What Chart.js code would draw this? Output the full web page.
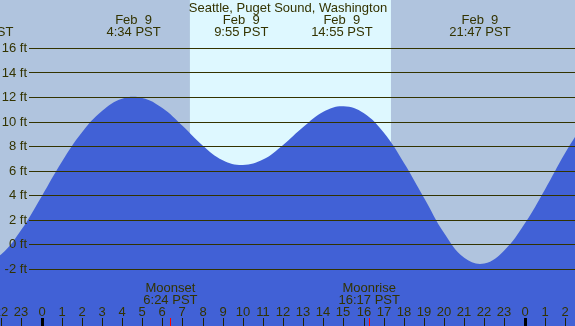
<!DOCTYPE html>
<html>
<head>
<meta charset="utf-8">
<script src="https://cdn.jsdelivr.net/npm/chart.js@4/dist/chart.umd.min.js"></script>
<style>
html,body{margin:0;padding:0;background:#b0c4de;overflow:hidden;}
#wrap{position:relative;width:575px;height:326px;}
canvas{display:block;}
</style>
</head>
<body>
<div id="wrap"><canvas id="c" width="575" height="326"></canvas></div>
<script>
// ---- data ----
const chartTitle = "Seattle, Puget Sound, Washington";
// tide height (ft) each hour of Feb 9 (negative = Feb 8, >=24 = Feb 10)
const tideHours = [-3, -2, -1, 0, 1, 2, 3, 4, 5, 6, 7, 8, 9, 10, 11, 12, 13, 14, 15, 16, 17, 18, 19, 20, 21, 22, 23, 24, 25, 26, 27];
const tideFeet  = [-1.5, -0.8, 1.2, 3.9, 6.7, 9.1, 10.85, 11.85, 11.92, 11.1, 9.65, 8.05, 6.85, 6.46, 6.9, 8.1, 9.55, 10.8, 11.25, 10.7, 9.1, 6.65, 3.8, 0.92, -1.1, -1.56, -0.48, 1.67, 4.43, 7.4, 10.0];
// high / low events
const eventHours = [-2.93, 4.57, 9.92, 14.92, 21.78];
const eventDates = ["", "Feb  9", "Feb  9", "Feb  9", "Feb  9"];
const eventTimes = ["21:04 PST", "4:34 PST", "9:55 PST", "14:55 PST", "21:47 PST"];
// daylight
const sunriseHour = 7.37;
const sunsetHour = 17.36;
// moon
const moonHours = [6.4, 16.28];
const moonNames = ["Moonset", "Moonrise"];
const moonTimes = ["6:24 PST", "16:17 PST"];
// axes
const feetTicks = [-2, 0, 2, 4, 6, 8, 10, 12, 14, 16];
const feetLabels = feetTicks.map(v => v + " ft");
const hourTicks = [-2, -1, 0, 1, 2, 3, 4, 5, 6, 7, 8, 9, 10, 11, 12, 13, 14, 15, 16, 17, 18, 19, 20, 21, 22, 23, 24, 25, 26];
const hourLabels = ["22", "23", "0", "1", "2", "3", "4", "5", "6", "7", "8", "9", "10", "11", "12", "13", "14", "15", "16", "17", "18", "19", "20", "21", "22", "23", "0", "1", "2"];

const X_MIN = -2.067, X_MAX = 26.505;
const Y_MIN = -6.65, Y_MAX = 19.9;

const TEXT = "#333300";
const FONT = "13px 'Liberation Sans', Arial, sans-serif";

const decor = {
  id: "decor",
  beforeDatasetsDraw(chart) {
    const {ctx, scales: {x, y}, chartArea: a} = chart;
    ctx.save();
    ctx.fillStyle = "#b0c4de";
    ctx.fillRect(a.left, a.top, a.right - a.left, a.bottom - a.top);
    const x0 = x.getPixelForValue(sunriseHour), x1 = x.getPixelForValue(sunsetHour);
    ctx.fillStyle = "#def8ff";
    ctx.fillRect(x0, a.top, x1 - x0, a.bottom - a.top);
    ctx.restore();
  },
  afterDatasetsDraw(chart) {
    const {ctx, scales: {x, y}, chartArea: a} = chart;
    ctx.save();
    // grid lines
    ctx.strokeStyle = "#333300";
    ctx.lineWidth = 1;
    feetTicks.forEach(v => {
      const py = Math.round(y.getPixelForValue(v)) + 0.5;
      ctx.beginPath(); ctx.moveTo(29, py); ctx.lineTo(a.right, py); ctx.stroke();
    });
    ctx.font = FONT;
    ctx.fillStyle = TEXT;
    ctx.textBaseline = "middle";
    // y labels
    ctx.textAlign = "right";
    feetTicks.forEach((v, i) => {
      ctx.fillText(feetLabels[i], 27, y.getPixelForValue(v) + 0.5);
    });
    // title & events
    ctx.textAlign = "center";
    ctx.fillText(chartTitle, 288, 8);
    eventHours.forEach((h, i) => {
      const px = x.getPixelForValue(h);
      if (eventDates[i]) ctx.fillText(eventDates[i], px, 20);
      ctx.fillText(eventTimes[i], px, 32);
    });
    // moon labels
    moonHours.forEach((h, i) => {
      const px = x.getPixelForValue(h);
      ctx.fillText(moonNames[i], px, 288);
      ctx.fillText(moonTimes[i], px, 300);
    });
    // hour labels & ticks
    hourTicks.forEach((h, i) => {
      const px = Math.round(x.getPixelForValue(h));
      ctx.fillStyle = TEXT;
      ctx.fillText(hourLabels[i], px, 312);
      if (hourLabels[i] === "0") {
        ctx.fillStyle = "#000000";
        ctx.fillRect(px - 1, 318, 3, 8);
      } else {
        ctx.fillStyle = "#222200";
        ctx.fillRect(px, 318, 1, 8);
      }
    });
    ctx.fillStyle = "#ff0000";
    moonHours.forEach(h => {
      const px = Math.round(x.getPixelForValue(h));
      ctx.fillRect(px, 318, 1, 8);
    });
    ctx.restore();
  }
};

new Chart(document.getElementById("c"), {
  type: "line",
  data: {
    datasets: [{
      data: tideHours.map((h, i) => ({x: h, y: tideFeet[i]})),
      borderWidth: 0,
      borderColor: "#4161d6",
      backgroundColor: "#4161d6",
      pointRadius: 0,
      fill: "start",
      tension: 0.4
    }]
  },
  options: {
    responsive: false,
    animation: false,
    devicePixelRatio: 1,
    layout: {padding: 0},
    plugins: {legend: {display: false}, tooltip: {enabled: false}, title: {display: false}},
    scales: {
      x: {type: "linear", min: X_MIN, max: X_MAX, display: false},
      y: {type: "linear", min: Y_MIN, max: Y_MAX, display: false}
    }
  },
  plugins: [decor]
});
</script>
</body>
</html>
